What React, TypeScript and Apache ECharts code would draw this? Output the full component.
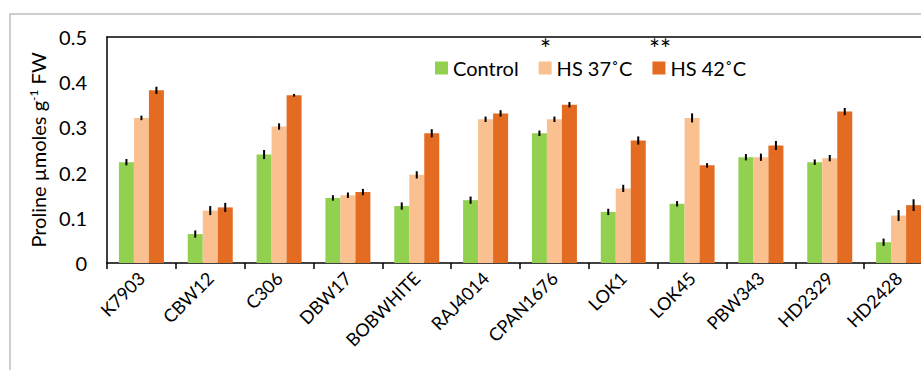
import React, { useEffect, useRef } from "react";
import * as echarts from "echarts";

const categories = ["K7903", "CBW12", "C306", "DBW17", "BOBWHITE", "RAJ4014", "CPAN1676", "LOK1", "LOK45", "PBW343", "HD2329", "HD2428"];
const control = [0.223, 0.064, 0.240, 0.144, 0.126, 0.139, 0.287, 0.113, 0.131, 0.234, 0.223, 0.046];
const hs37 = [0.321, 0.116, 0.302, 0.150, 0.195, 0.318, 0.318, 0.165, 0.321, 0.234, 0.232, 0.105];
const hs42 = [0.382, 0.123, 0.371, 0.157, 0.287, 0.331, 0.350, 0.271, 0.216, 0.260, 0.335, 0.128];
const controlErr = [0.007, 0.008, 0.010, 0.006, 0.008, 0.008, 0.006, 0.007, 0.006, 0.007, 0.006, 0.008];
const hs37Err = [0.005, 0.010, 0.007, 0.006, 0.008, 0.006, 0.006, 0.008, 0.010, 0.008, 0.007, 0.012];
const hs42Err = [0.008, 0.010, 0.003, 0.007, 0.009, 0.007, 0.006, 0.009, 0.005, 0.010, 0.008, 0.013];
const seriesNames = ["Control", "HS 37˚C", "HS 42˚C"];
const yTicks = [0, 0.1, 0.2, 0.3, 0.4, 0.5];

const COLORS = ["#92D050", "#FAC090", "#E46C22"];
const FONT = "Lato";

export default function App() {
  const ref = useRef<HTMLDivElement>(null);
  useEffect(() => {
    if (!ref.current) return;
    const chart = echarts.init(ref.current, null, { renderer: "svg" });
    const values = [control, hs37, hs42];
    const errs = [controlErr, hs37Err, hs42Err];
    const barW = 15;
    const offsets = [-barW, 0, barW];

    const barSeries = seriesNames.map((name, k) => ({
      name,
      type: "bar",
      data: values[k],
      barWidth: barW,
      barGap: "0%",
      itemStyle: { color: COLORS[k] },
      xAxisIndex: 0,
      yAxisIndex: 0,
      z: 2,
    }));

    const errSeries = seriesNames.map((name, k) => ({
      name: name + " err",
      type: "custom",
      xAxisIndex: 0,
      yAxisIndex: 0,
      z: 5,
      data: categories.map((c, i) => [i, values[k][i], errs[k][i]]),
      encode: { x: 0, y: 1 },
      renderItem: (params: any, api: any) => {
        const i = api.value(0);
        const v = api.value(1);
        const e = api.value(2);
        const top = api.coord([i, v + e]);
        const bot = api.coord([i, v - e]);
        const x = top[0] + offsets[k];
        return {
          type: "line",
          shape: { x1: x, y1: top[1], x2: x, y2: bot[1] },
          style: { stroke: "#000", lineWidth: 2 },
        };
      },
    }));

    chart.setOption({
      animation: false,
      textStyle: { fontFamily: FONT },
      grid: { left: 107, top: 37, width: 826, height: 226, containLabel: false },
      legend: {
        data: seriesNames,
        left: 430,
        top: 53,
        icon: "rect",
        itemWidth: 13,
        itemHeight: 13,
        itemGap: 20,
        textStyle: { fontSize: 20, color: "#000", fontFamily: FONT },
      },
      xAxis: [
        {
          type: "category",
          data: categories,
          position: "bottom",
          axisLine: { lineStyle: { color: "#000", width: 1.5 } },
          axisTick: { show: true, length: 6, lineStyle: { color: "#000", width: 1.5 } },
          axisLabel: { rotate: 45, fontSize: 18, color: "#000", margin: 12, fontFamily: FONT },
        },
        {
          type: "category",
          data: categories,
          position: "top",
          axisLine: { lineStyle: { color: "#000", width: 1.5 } },
          axisTick: { show: false },
          axisLabel: { show: false },
        },
      ],
      yAxis: {
        type: "value",
        min: yTicks[0],
        max: yTicks[yTicks.length - 1],
        interval: 0.1,
        axisLine: { show: true, lineStyle: { color: "#000", width: 1.5 } },
        axisTick: { show: false },
        splitLine: { show: false },
        axisLabel: { fontSize: 20, color: "#000", margin: 20, fontFamily: FONT },
        name: "Proline µmoles g{sup|-1} FW",
        nameLocation: "middle",
        nameRotate: 90,
        nameGap: 56,
        nameTextStyle: {
          fontSize: 20,
          color: "#000",
          fontFamily: FONT,
          rich: { sup: { fontSize: 12, verticalAlign: "top", padding: [0, 0, 9, 0], fontFamily: FONT, color: "#000" } },
        },
      },
      graphic: [
        {
          type: "rect",
          shape: { x: 10, y: 14, width: 2000, height: 1000 },
          style: { fill: "none", stroke: "#BFBFBF", lineWidth: 1.5 },
          silent: true,
        },
        { type: "text", x: 540, y: 36, style: { text: "*", fontSize: 26, fill: "#000", fontFamily: FONT } },
        { type: "text", x: 649, y: 36, style: { text: "**", fontSize: 26, fill: "#000", fontFamily: FONT } },
      ],
      series: [...barSeries, ...errSeries],
    });
    return () => chart.dispose();
  }, []);

  return (
    <div style={{ position: "fixed", left: 0, top: 0, width: 921, height: 370, overflow: "hidden", background: "#fff" }}>
      <div ref={ref} style={{ width: 960, height: 370 }} />
    </div>
  );
}
